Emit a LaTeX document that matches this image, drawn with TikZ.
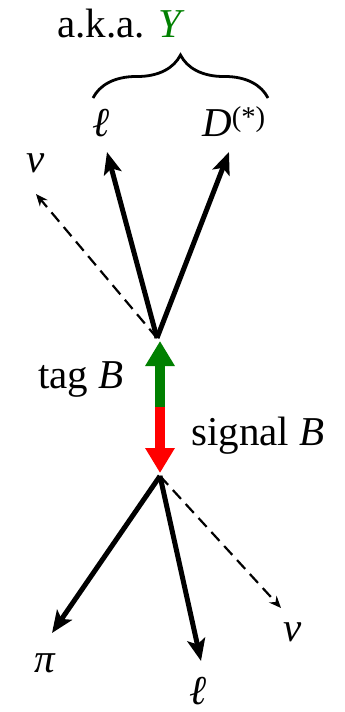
\documentclass[tikz,border=0pt]{standalone}
\usepackage{fontspec}
\setmainfont{Liberation Serif}
\usetikzlibrary{arrows.meta,decorations.pathreplacing}
\definecolor{tagg}{RGB}{0,128,0}
\definecolor{sigr}{RGB}{255,0,0}
\begin{document}
\begin{tikzpicture}[x=1pt,y=-1pt,
  lbl/.style={inner sep=0pt,anchor=base,font=\fontsize{41}{46}\selectfont},
  thick arrow/.style={line width=5pt,-{Stealth[length=22pt,width=18pt,inset=5pt]}},
  nu arrow/.style={line width=2.2pt,dash pattern=on 12pt off 7pt,-{Stealth[length=12pt,width=10pt]}},
  bbar/.style={line width=10pt,-{Triangle[length=25pt,width=28pt]}}]
\useasboundingbox (0,0) rectangle (345,712);
% vertices
\coordinate (tv) at (157,338);
\coordinate (bv) at (160,476);
\coordinate (mid) at (160,407);
\coordinate (tagtip) at (160,341);
\coordinate (sigtip) at (160,473);
% tips
\coordinate (lt) at (107,152);
\coordinate (dt) at (229,152);
\coordinate (nt) at (36,194);
\coordinate (pb) at (52,633);
\coordinate (lb) at (201,661);
\coordinate (nb) at (281,608);
% labels
\node[lbl] (aka) at (121,37) {a.k.a. \textcolor{tagg}{\textit{Y}}};
\node[lbl] (ltop) at (101,136) {\textit{ℓ}};
\node[lbl] (dtop) at (234,136) {\textit{D}\textsuperscript{(*)}};
\node[lbl] (ntop) at (36,172) {\textit{ν}};
\node[lbl] (pib) at (45,672) {\textit{π}};
\node[lbl] (lbot) at (198,704) {\textit{ℓ}};
\node[lbl] (nbot) at (293,641) {\textit{ν}};
\node[lbl] (tag) at (81,388) {tag \textit{B}};
\node[lbl] (sig) at (258,445) {signal \textit{B}};
% brace
\coordinate (b1) at (93,98);
\coordinate (b2) at (268,98);
\draw[line width=2.8pt,decorate,decoration={brace,amplitude=43pt}] (b1) -- (b2);
% arrows
\draw[thick arrow] (tv) -- (lt);
\draw[thick arrow] (tv) -- (dt);
\draw[nu arrow] (tv) -- (nt);
\draw[thick arrow] (bv) -- (pb);
\draw[thick arrow] (bv) -- (lb);
\draw[nu arrow] (bv) -- (nb);
\draw[bbar,draw=tagg,fill=tagg] (mid) -- (tagtip);
\draw[bbar,draw=sigr,fill=sigr] (mid) -- (sigtip);
\end{tikzpicture}
\end{document}
